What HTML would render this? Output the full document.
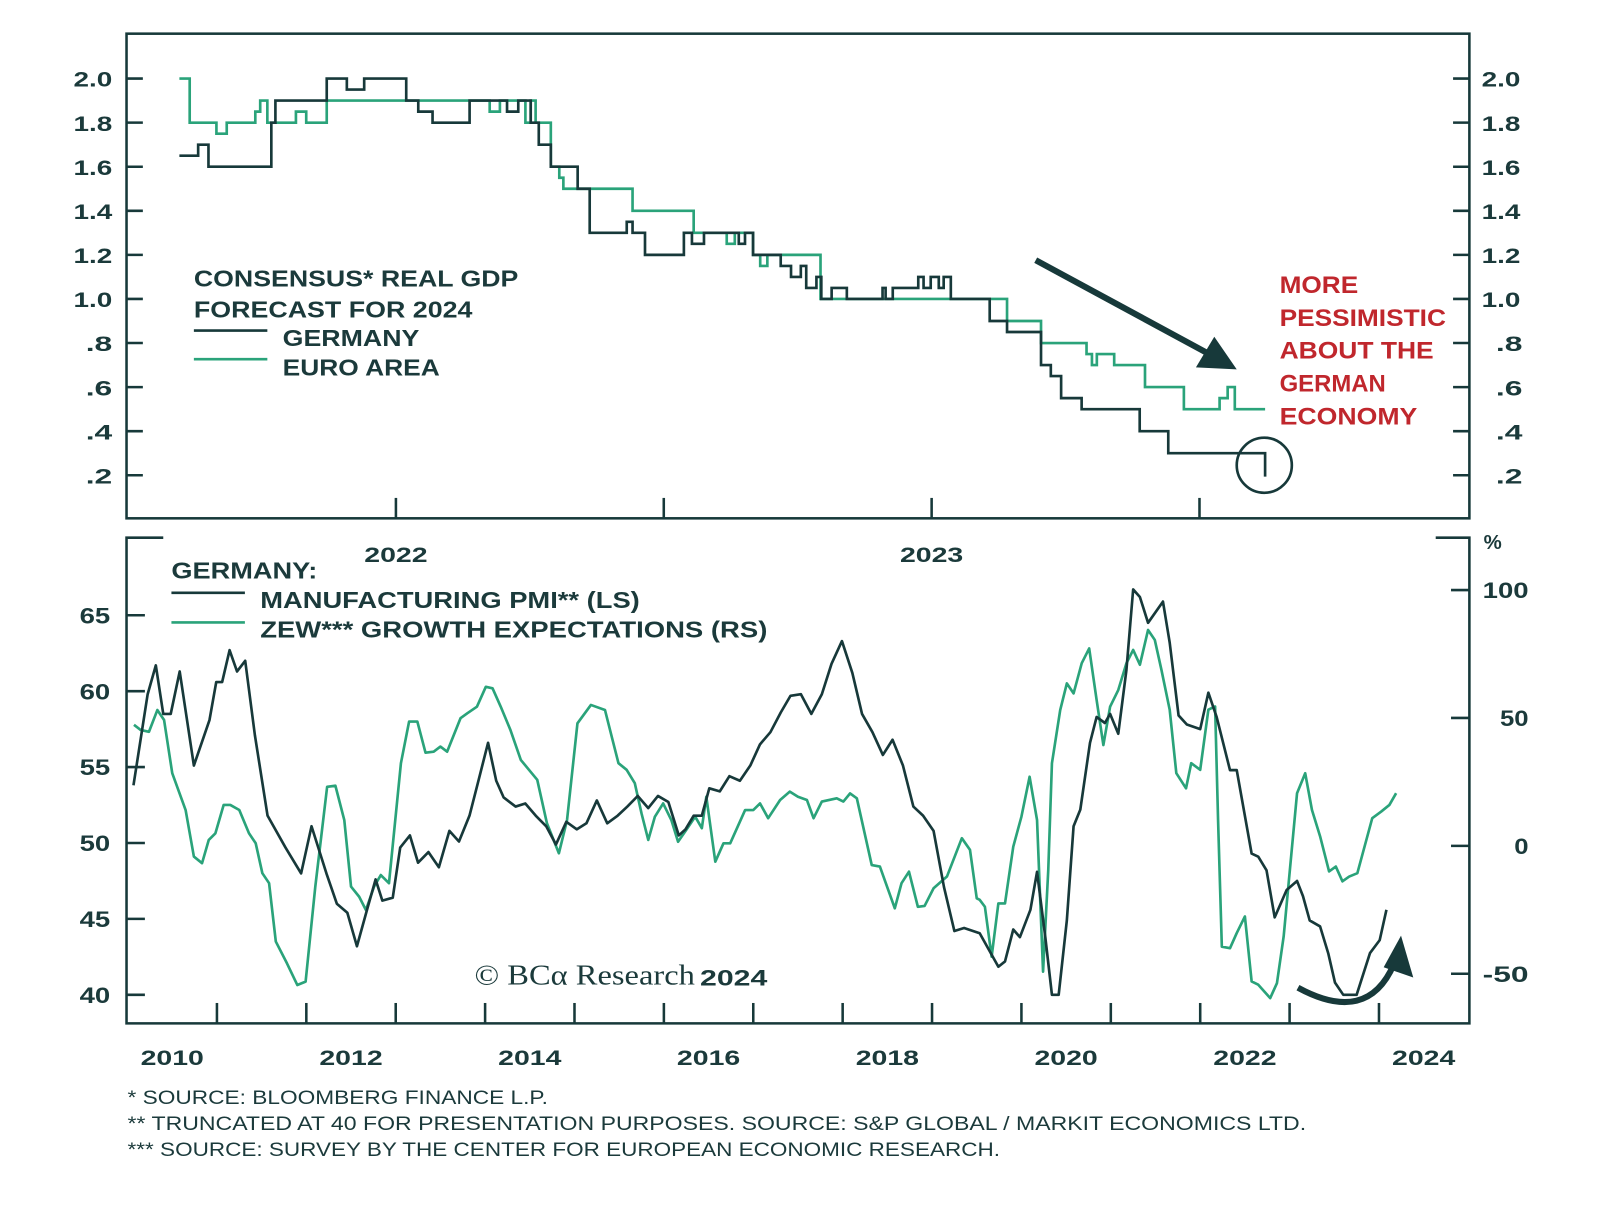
<!DOCTYPE html>
<html><head><meta charset="utf-8"><style>
html,body{margin:0;padding:0;background:#fff;}
svg{display:block;}
text{font-family:"Liberation Sans","DejaVu Sans",sans-serif;font-weight:bold;fill:#1b3a3b;}
</style></head><body>
<svg id="chart" width="1600" height="1205" viewBox="0 0 1568 1181" preserveAspectRatio="none" xmlns="http://www.w3.org/2000/svg">
<g id="top-panel"></g>
<g id="bottom-panel"></g>
</svg>
<script>
// ---- Top panel data (months since Jan 2022, step values) ----
const gdpTicks = [2.0,1.8,1.6,1.4,1.2,1.0,0.8,0.6,0.4,0.2];
const gdpTickLabels = ["2.0","1.8","1.6","1.4","1.2","1.0",".8",".6",".4",".2"];
const topXLabels = ["2022","2023"];
const topXLabelMonths = [0,12];
const topXTickMonths = [0,6,12,18];
const germanyMonths = [-4.85,-4.43,-4.2,-2.79,-2.7,-1.55,-1.1,-0.71,0.23,0.5,0.82,1.65,2.49,2.74,3.02,3.2,3.47,4.07,4.34,5.17,5.3,5.58,6.45,6.63,6.9,7.68,7.82,8.0,8.62,8.85,9.07,9.19,9.42,9.53,9.76,10.1,10.9,10.97,11.13,11.7,11.82,11.98,12.16,12.27,12.43,13.3,13.69,14.45,14.67,14.9,15.36,16.66,17.3,19.47,19.5];
const germanyGdp = [1.65,1.7,1.6,1.8,1.9,2.0,1.95,2.0,1.9,1.85,1.8,1.9,1.85,1.9,1.8,1.7,1.6,1.5,1.3,1.35,1.3,1.2,1.3,1.25,1.3,1.25,1.3,1.2,1.15,1.1,1.15,1.05,1.1,1.0,1.05,1.0,1.05,1.0,1.05,1.1,1.05,1.1,1.05,1.1,1.0,0.9,0.85,0.7,0.65,0.55,0.5,0.4,0.3,0.2,0.2];
const euroMonths = [-4.85,-4.62,-4.02,-3.79,-3.15,-3.04,-2.88,-2.24,-2.01,-1.55,2.1,2.33,2.9,3.02,3.13,3.47,3.66,3.75,5.3,6.67,7.41,7.59,8.0,8.16,8.32,9.51,13.69,14.45,15.47,15.59,15.7,16.09,16.78,17.65,18.45,18.63,18.79,19.47];
const euroGdp = [2.0,1.8,1.75,1.8,1.85,1.9,1.8,1.85,1.8,1.9,1.85,1.9,1.8,1.9,1.8,1.6,1.55,1.5,1.4,1.3,1.25,1.3,1.2,1.15,1.2,1.0,0.9,0.8,0.75,0.7,0.75,0.7,0.6,0.5,0.55,0.6,0.5,0.5];

// ---- Bottom panel data (months since Jan 2010) ----
const pmiTicks = [65,60,55,50,45,40];
const zewTicks = [100,50,0,-50];
const yearLabels = ["2010","2012","2014","2016","2018","2020","2022","2024"];
const pmiMonths = [0.8,2.7,3.8,4.8,5.8,7.0,8.9,11.0,11.9,12.7,13.7,14.7,15.8,17.1,18.8,21.2,23.3,24.7,26.7,28.1,29.5,30.8,32.2,33.3,34.2,35.6,36.6,37.9,39.0,40.4,41.8,43.2,44.5,45.9,47.0,48.4,49.5,50.5,52.1,53.4,54.8,56.2,57.5,58.9,60.3,61.6,63.0,64.4,65.8,67.1,68.5,69.9,71.2,72.6,74.0,74.9,76.0,77.1,78.1,79.5,80.8,82.2,83.6,84.9,86.3,87.7,89.0,90.4,91.8,93.2,94.5,95.9,97.3,98.6,100.0,101.4,102.7,104.1,105.5,106.8,108.2,109.6,111.0,112.3,114.4,116.9,117.8,118.9,119.8,121.2,122.1,123.2,124.1,125.0,126.1,127.0,127.9,129.2,130.1,131.2,131.9,133.0,134.1,135.0,135.9,137.0,139.0,139.9,141.1,142.2,144.0,145.1,146.2,148.0,148.9,150.9,151.8,152.9,154.0,155.6,157.0,157.8,158.7,160.1,161.2,162.1,163.2,165.0,166.8,168.1,169.0];
const pmiValues = [53.8,59.8,61.7,58.5,58.5,61.3,55.1,58.1,60.6,60.6,62.7,61.3,62,57.1,51.8,49.7,48,51.1,48,46,45.4,43.2,45.7,47.6,46.2,46.4,49.7,50.5,48.7,49.4,48.4,50.8,50.1,51.8,53.9,56.6,54.1,53,52.4,52.6,51.8,51.1,49.9,51.4,50.9,51.3,52.8,51.3,51.8,52.4,53.1,52.3,53.1,52.7,50.5,50.9,51.8,51.8,53.6,53.4,54.4,54.1,55.1,56.5,57.3,58.6,59.7,59.8,58.5,59.8,61.8,63.3,61.2,58.5,57.3,55.8,56.8,55.1,52.4,51.8,50.8,47.1,44.2,44.4,44.05,41.85,42.2,44.3,43.8,45.6,48.1,43.8,40,40,44.9,51.1,52.2,56.6,58.3,57.9,58.5,57.2,61.4,66.7,66.2,64.5,65.9,63.2,58.4,57.8,57.5,59.9,58.3,54.8,54.8,49.3,49.1,48.2,45.1,46.9,47.5,46.5,44.9,44.5,42.7,40.8,40,40,42.75,43.6,45.6];
const zewMonths = [0.86,1.76,2.88,4.0,4.9,6.0,7.8,8.9,10.0,10.9,11.8,12.9,13.8,15.0,16.3,17.2,18.1,19.0,19.9,21.4,22.8,23.9,25.2,26.8,27.9,29.1,30.0,31.1,32.0,33.1,34.0,35.1,36.7,37.8,38.9,40.0,41.1,42.0,42.9,44.7,45.6,46.9,48.1,49.0,50.1,51.4,52.8,54.1,55.0,56.3,57.9,59.0,60.4,62.2,64.1,65.0,65.9,67.0,68.1,69.0,69.9,70.8,71.9,73.0,73.9,75.0,76.2,77.1,77.7,78.9,80.0,80.9,82.9,84.0,84.9,86.0,87.6,88.9,90.0,91.2,92.1,93.2,95.2,96.1,97.0,97.9,99.9,101.0,103.0,103.9,104.9,106.1,107.0,108.2,110.0,112.0,113.1,114.0,114.4,115.1,116.0,116.9,117.8,118.9,120.0,121.1,122.1,122.9,123.6,124.1,125.2,126.1,127.0,128.1,129.1,130.1,131.0,131.9,133.0,134.1,135.0,135.9,137.0,137.9,138.8,139.9,140.8,142.1,142.8,144.0,145.1,146.0,146.4,146.9,148.0,148.9,150.0,150.9,151.8,153.4,154.3,155.2,157.0,158.1,159.0,160.1,161.3,162.2,163.1,164.0,165.1,167.1,168.3,169.4,170.3];
const zewValues = [47.3,45.3,44.6,53.1,49.2,28.4,14.0,-4.2,-6.8,2.3,4.9,16.0,16.0,14.0,4.9,1.0,-10.7,-14.6,-37.4,-45.9,-54.4,-53.1,-15.9,23.1,23.5,10.1,-15.9,-19.9,-25.1,-15.9,-11.4,-14.6,32.3,48.6,48.6,36.4,36.8,38.8,36.8,49.9,51.8,54.4,62.2,61.6,54.4,45.3,33.6,29.0,25.8,8.8,-2.9,10.1,47.9,55.1,53.1,42.7,32.3,29.7,24.5,12.7,2.3,11.4,16.6,10.1,1.6,6.2,11.4,6.9,19.2,-6.2,1.0,1.0,14.0,14.0,16.6,10.8,17.9,21.2,19.2,17.9,10.8,17.3,18.6,17.3,20.5,18.6,-7.5,-8.1,-24.4,-14.6,-10.1,-23.8,-23.5,-16.6,-12.0,3.0,-1.6,-20.5,-21.1,-23.8,-43.3,-22.5,-22.5,-0.3,11.4,27.0,10.1,-49.2,-9.4,32.3,53.1,63.5,59.6,71.4,77.2,57.0,39.4,54.4,60.9,71.4,76.6,70.8,84.4,80.5,68.8,53.2,28.4,22.5,32.3,29.7,53.2,54.5,10.2,-39.4,-40,-34.1,-27.6,-53,-54.3,-59.5,-53.7,-35.4,20.6,28.4,14.1,3.7,-10,-8.1,-13.9,-12,-10.7,10.8,13.4,16.0,20.6];

const NS = "http://www.w3.org/2000/svg";
const DARK = "#17393a", GREEN = "#2aa37a";
function mk(parent, tag, attrs, txt){
  const e = document.createElementNS(NS, tag);
  for (const k in attrs) e.setAttribute(k, attrs[k]);
  if (attrs.textLength) e.setAttribute('lengthAdjust','spacingAndGlyphs');
  if (txt !== undefined) e.textContent = txt;
  parent.appendChild(e); return e;
}
const topG = document.getElementById('top-panel');
const botG = document.getElementById('bottom-panel');

const yTop = v => 77 + (2.0 - v) / 0.2 * 43.2;
const xTop = m => 388 + m * 43.75;
const yPmi = v => 603 + (65 - v) * 14.88;
const yZew = v => 829 - v * 2.507;
const xBot = m => 125 + m * 7.3;

let el;
el = mk(topG,'rect',{x:124,y:33,width:1316,height:475,fill:'none',stroke:DARK,'stroke-width':2.5});


gdpTicks.forEach((v,i)=>{
  const y = yTop(v);
  const w = gdpTickLabels[i].length===3 ? 38 : 26;
  el = mk(topG,'line',{x1:124,y1:y,x2:140,y2:y,stroke:DARK,'stroke-width':2.5});
  
  
  el = mk(topG,'line',{x1:1424,y1:y,x2:1440,y2:y,stroke:DARK,'stroke-width':2.5});
  
  
  el = mk(topG,'text',{x:110-w,y:y+8,'font-size':21,textLength:w},gdpTickLabels[i]);
  
  
  el = mk(topG,'text',{x:gdpTickLabels[i].length===3?1452:1466,y:y+8,'font-size':21,textLength:w},gdpTickLabels[i]);
  
  
});
topXTickMonths.forEach(m=>{
  el = mk(topG,'line',{x1:xTop(m),y1:488,x2:xTop(m),y2:508,stroke:DARK,'stroke-width':2.5});
  
  
});
topXLabels.forEach((s,i)=>{
  el = mk(topG,'text',{x:xTop(topXLabelMonths[i])-31,y:551,'font-size':21,textLength:62},s);
  
  
});
function stepPath(ms, vs){
  let d = 'M'+xTop(ms[0]).toFixed(1)+','+yTop(vs[0]).toFixed(1);
  for(let i=1;i<ms.length;i++){
    d += 'H'+xTop(ms[i]).toFixed(1)+'V'+yTop(vs[i]).toFixed(1);
  }
  return d;
}
el = mk(topG,'path',{d:stepPath(euroMonths,euroGdp),fill:'none',stroke:GREEN,'stroke-width':2.6});


el = mk(topG,'path',{d:stepPath(germanyMonths,germanyGdp),fill:'none',stroke:DARK,'stroke-width':2.6});



el = mk(topG,'text',{x:190,y:281,'font-size':23,textLength:318},'CONSENSUS* REAL GDP');


el = mk(topG,'text',{x:190,y:311,'font-size':23,textLength:273},'FORECAST FOR 2024');


el = mk(topG,'line',{x1:190,y1:324,x2:262,y2:324,stroke:DARK,'stroke-width':2.6});


el = mk(topG,'text',{x:277,y:339,'font-size':23,textLength:134},'GERMANY');


el = mk(topG,'line',{x1:190,y1:352,x2:262,y2:352,stroke:GREEN,'stroke-width':2.6});


el = mk(topG,'text',{x:277,y:368,'font-size':23,textLength:154},'EURO AREA');



const annLines = ["MORE","PESSIMISTIC","ABOUT THE","GERMAN","ECONOMY"];
const annWidths = [77,163,151,104,135];
annLines.forEach((s,i)=>{
  el = mk(topG,'text',{x:1254,y:287+i*32.3,'font-size':24,textLength:annWidths[i],style:'fill:#c0272d'},s);
  
  
});
el = mk(topG,'line',{x1:1015,y1:255,x2:1185,y2:347,stroke:DARK,'stroke-width':6});


el = mk(topG,'polygon',{points:'1212,362 1172,360 1190,330',fill:DARK});


el = mk(topG,'circle',{cx:1239,cy:456,r:27,fill:'none',stroke:DARK,'stroke-width':2.6});



el = mk(botG,'path',{d:'M160,527H124V1003H1440V527H1407',fill:'none',stroke:DARK,'stroke-width':2.5});


pmiTicks.forEach(v=>{
  el = mk(botG,'line',{x1:124,y1:yPmi(v),x2:142,y2:yPmi(v),stroke:DARK,'stroke-width':2.5});
  
  
  el = mk(botG,'text',{x:78,y:yPmi(v)+8,'font-size':22,textLength:30},String(v));
  
  
});
zewTicks.forEach(v=>{
  const s = String(v);
  const w = s.length===3 ? 45 : (s.length===2 ? 28 : 14);
  el = mk(botG,'line',{x1:1422,y1:yZew(v),x2:1440,y2:yZew(v),stroke:DARK,'stroke-width':2.5});
  
  
  el = mk(botG,'text',{x:1498-w,y:yZew(v)+8,'font-size':22,textLength:w},s);
  
  
});
el = mk(botG,'text',{x:1454,y:538,'font-size':20},'%');


for(let k=1;k<=14;k++){
  el = mk(botG,'line',{x1:xBot(k*12),y1:983,x2:xBot(k*12),y2:1003,stroke:DARK,'stroke-width':2.5});
  
  
}
yearLabels.forEach((s,i)=>{
  el = mk(botG,'text',{x:xBot(i*24+6)-31,y:1044,'font-size':21,textLength:62},s);
  
  
});
function linePath(ms, vs, yf){
  return ms.map((m,i)=>(i?'L':'M')+xBot(m).toFixed(1)+','+yf(vs[i]).toFixed(1)).join('');
}
el = mk(botG,'path',{d:linePath(zewMonths,zewValues,yZew),fill:'none',stroke:GREEN,'stroke-width':2.6,'stroke-linejoin':'round'});


el = mk(botG,'path',{d:linePath(pmiMonths,pmiValues,yPmi),fill:'none',stroke:DARK,'stroke-width':2.6,'stroke-linejoin':'round'});



el = mk(botG,'text',{x:168,y:567,'font-size':23,textLength:143},'GERMANY:');


el = mk(botG,'line',{x1:168,y1:581,x2:240,y2:581,stroke:DARK,'stroke-width':2.6});


el = mk(botG,'text',{x:255,y:596,'font-size':23,textLength:372},'MANUFACTURING PMI** (LS)');


el = mk(botG,'line',{x1:168,y1:610,x2:240,y2:610,stroke:GREEN,'stroke-width':2.6});


el = mk(botG,'text',{x:255,y:625,'font-size':23,textLength:497},'ZEW*** GROWTH EXPECTATIONS (RS)');



el = mk(botG,'path',{d:'M1272,968 Q1340,1005 1366,945',fill:'none',stroke:DARK,'stroke-width':6});


el = mk(botG,'polygon',{points:'1373,917 1385,958 1356,948',fill:DARK});



el = mk(botG,'text',{x:465,y:965,'font-size':28,textLength:216,style:'font-family:"Liberation Serif",serif;font-weight:normal'},'© BCα Research');


el = mk(botG,'text',{x:686,y:966,'font-size':22,textLength:66},'2024');



const notes = ["* SOURCE: BLOOMBERG FINANCE L.P.","** TRUNCATED AT 40 FOR PRESENTATION PURPOSES. SOURCE: S&P GLOBAL / MARKIT ECONOMICS LTD.","***  SOURCE: SURVEY BY THE CENTER FOR EUROPEAN ECONOMIC RESEARCH."];
const noteWidths = [412,1155,855];
notes.forEach((s,i)=>{
  el = mk(botG,'text',{x:125,y:1082+i*25.5,'font-size':19,textLength:noteWidths[i],style:'font-weight:normal'},s);
  
  
});
</script>
</body></html>
